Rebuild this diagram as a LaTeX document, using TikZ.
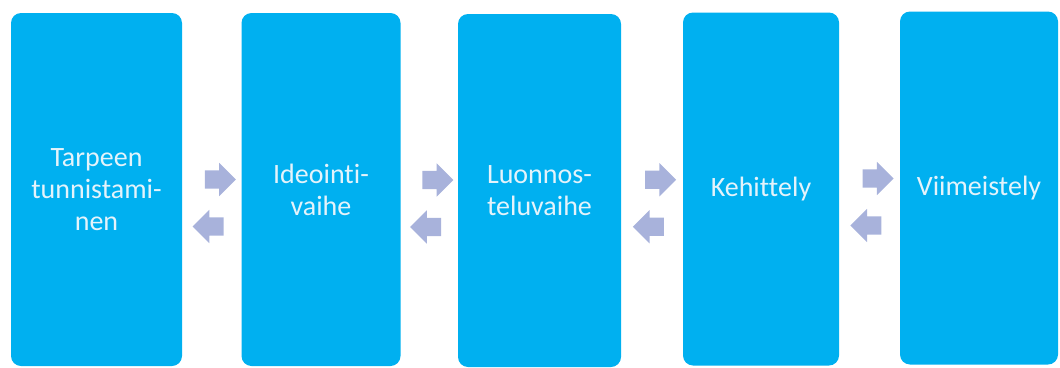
\documentclass[tikz,border=0pt]{standalone}
\usepackage{fontspec}
\setmainfont{Carlito}[Ligatures={NoCommon,NoContextual},RawFeature=-liga,RawFeature=-calt,RawFeature=-clig]
\usetikzlibrary{shapes.arrows,calc}
\definecolor{vaihesin}{RGB}{0,176,240}
\definecolor{nuolivari}{RGB}{168,178,219}
\definecolor{tekstivari}{RGB}{228,243,251}

\begin{document}
\begin{tikzpicture}[x=1pt,y=-1pt,
  every node/.style={font=\fontsize{28}{32}\selectfont},
  phase/.style={rectangle,rounded corners=10pt,fill=vaihesin,text=tekstivari,
    inner sep=0pt,minimum height=353pt,align=center},
  fwd/.style={single arrow,fill=nuolivari,inner xsep=0pt,inner ysep=9pt,
    single arrow head extend=7.5pt,minimum height=31pt},
  bwd/.style={fwd,shape border rotate=180}]
  \useasboundingbox (0,0) rectangle (1060,367);
  \node[phase,minimum width=171pt] (tarve) at (96.5,189.5) {Tarpeen\\tunnistami-\\nen};
  \node[phase,minimum width=159pt] (ideointi) at (321,189.5) {Ideoint\kern0pt i-\\vaihe};
  \node[phase,minimum width=163pt] (luonnos) at (539.5,190.5) {Luonnos-\\teluvaihe};
  \node[phase,minimum width=156pt] (kehitys) at (761,189) {Kehitt\kern0pt ely};
  \node[phase,minimum width=158pt] (viimeistely) at (979,188) {Viimeistely};
  % nuolet vaiheiden valissa
  \node[fwd] (f1) at ($(tarve.east)!0.5!(ideointi.west)+(4,-10)$) {};
  \node[bwd] (b1) at ($(tarve.east)!0.5!(ideointi.west)+(1,37)$) {};
  \node[fwd] (f2) at ($(ideointi.east)!0.5!(luonnos.west)+(4,-10)$) {};
  \node[bwd] (b2) at ($(ideointi.east)!0.5!(luonnos.west)+(1,37)$) {};
  \node[fwd] (f3) at ($(luonnos.east)!0.5!(kehitys.west)+(4,-10)$) {};
  \node[bwd] (b3) at ($(luonnos.east)!0.5!(kehitys.west)+(1,37)$) {};
  \node[fwd] (f4) at ($(kehitys.east)!0.5!(viimeistely.west)+(4,-10)$) {};
  \node[bwd] (b4) at ($(kehitys.east)!0.5!(viimeistely.west)+(1,37)$) {};
\end{tikzpicture}
\end{document}
